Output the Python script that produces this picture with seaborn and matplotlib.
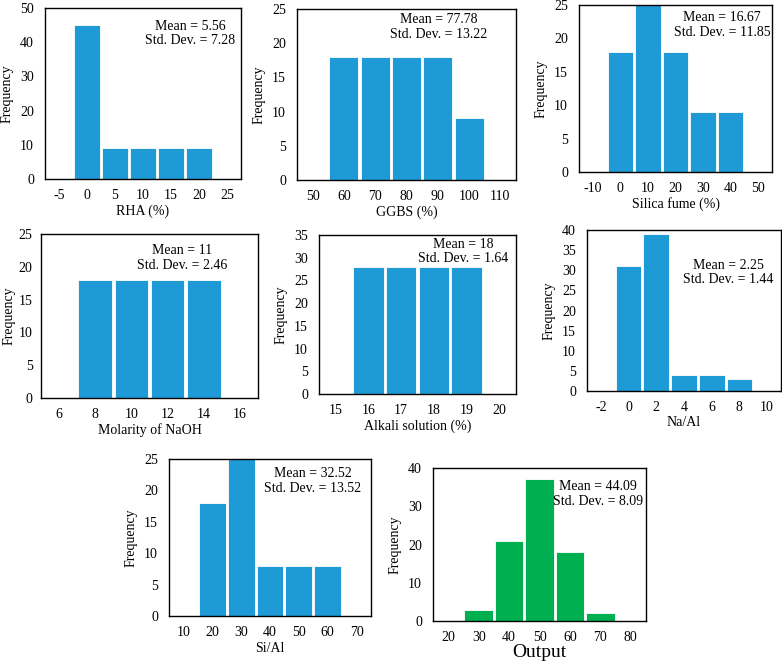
import matplotlib
matplotlib.use("Agg")
import matplotlib.pyplot as plt
import seaborn as sns
import numpy as np
import pandas as pd

# ---- data ----
rha_x = [0, 5, 10, 15, 20]
rha_f = [45, 9, 9, 9, 9]
ggbs_x = [60, 70, 80, 90, 100]
ggbs_f = [18, 18, 18, 18, 9]
sf_x = [0, 10, 20, 30, 40]
sf_f = [18, 25, 18, 9, 9]
naoh_x = [8, 10, 12, 14]
naoh_f = [18, 18, 18, 18]
alk_x = [16, 17, 18, 19]
alk_f = [28, 28, 28, 28]
naal_x = [0, 2, 4, 6, 8]
naal_f = [31, 39, 4, 4, 3]
sial_x = [20, 30, 40, 50, 60]
sial_f = [18, 25, 8, 8, 8]
out_x = [30, 40, 50, 60, 70]
out_f = [3, 21, 37, 18, 2]

labels = ["RHA (%)", "GGBS (%)", "Silica fume (%)", "Molarity of NaOH",
          "Alkali solution (%)", "Na/Al", "Si/Al", "Output"]
stats = ["Mean = 5.56\nStd. Dev. = 7.28", "Mean = 77.78\nStd. Dev. = 13.22",
         "Mean = 16.67\nStd. Dev. = 11.85", "Mean = 11\nStd. Dev. = 2.46",
         "Mean = 18\nStd. Dev. = 1.64", "Mean = 2.25\nStd. Dev. = 1.44",
         "Mean = 32.52\nStd. Dev. = 13.52", "Mean = 44.09\nStd. Dev. = 8.09"]

sns.set_theme(style="white")
plt.rcParams['font.family'] = ['Liberation Serif', 'DejaVu Serif']

BLUE = "#1E9BD7"
GREEN = "#00B050"
FS = 10
W, H = 782, 661
fig = plt.figure(figsize=(W / 100, H / 100), dpi=100)

def add(l, t, r, b):
    return fig.add_axes([l / W, 1 - b / H, (r - l) / W, (b - t) / H])

# (xs, freqs, step, xticks, ymax, ystep, box px, text pos, color)
panels = [
    (rha_x, rha_f, 5, np.arange(-5, 26, 5), 50, 10, (45, 8, 241, 179), (0.74, 0.85), BLUE),
    (ggbs_x, ggbs_f, 10, np.arange(50, 111, 10), 25, 5, (297, 9, 516, 180), (0.645, 0.895), BLUE),
    (sf_x, sf_f, 10, np.arange(-10, 51, 10), 25, 5, (579, 5, 772, 172), (0.74, 0.88), BLUE),
    (naoh_x, naoh_f, 2, np.arange(6, 17, 2), 25, 5, (41, 234, 258, 398), (0.65, 0.855), BLUE),
    (alk_x, alk_f, 1, np.arange(15, 21, 1), 35, 5, (319, 235, 516, 394), (0.73, 0.895), BLUE),
    (naal_x, naal_f, 2, np.arange(-2, 11, 2), 40, 5, (587, 230, 781, 391), (0.73, 0.735), BLUE),
    (sial_x, sial_f, 10, np.arange(10, 71, 10), 25, 5, (169, 459, 371, 616), (0.71, 0.86), BLUE),
    (out_x, out_f, 10, np.arange(20, 81, 10), 40, 10, (433, 468, 646, 621), (0.775, 0.83), GREEN),
]

for i, (xs, fs, step, xt, ymax, ystep, box, tpos, col) in enumerate(panels):
    ax = add(*box)
    df = pd.DataFrame({"x": xs, "f": fs})
    edges = [float(v - step / 2) for v in xs] + [float(xs[-1] + step / 2)]
    sns.histplot(data=df, x="x", weights="f", bins=edges, ax=ax, color=col, alpha=1,
                 shrink=0.93, edgecolor="white", linewidth=0.6)
    ax.set_xlim(xt[0] - step / 2, xt[-1] + step / 2)
    ax.set_ylim(0, ymax)
    ax.set_xticks(xt)
    ax.set_xticklabels([str(int(v)) for v in xt])
    ax.set_yticks(np.arange(0, ymax + 1, ystep))
    ax.tick_params(axis="both", length=0, labelsize=FS, colors="black")
    ax.tick_params(axis="x", pad=7)
    if i == 3:
        ax.tick_params(axis="y", pad=6)
        ax.set_ylabel("Frequency", fontsize=FS, color="black", labelpad=2)
    else:
        ax.tick_params(axis="y", pad=8)
        ax.set_ylabel("Frequency", fontsize=FS, color="black", labelpad=5)
    if i == 7:
        ax.set_xlabel(labels[i], fontsize=14, color="black", labelpad=0)
    else:
        ax.set_xlabel(labels[i], fontsize=FS, color="black", labelpad=2)
    for s in ax.spines.values():
        s.set_visible(True)
        s.set_color("black")
        s.set_linewidth(1.0)
    ax.grid(False)
    ax.text(tpos[0], tpos[1], stats[i], transform=ax.transAxes, ha="center",
            va="center", multialignment="center", fontsize=FS, color="black",
            linespacing=1.15)

fig.savefig("out.png", dpi=100, facecolor="white")
